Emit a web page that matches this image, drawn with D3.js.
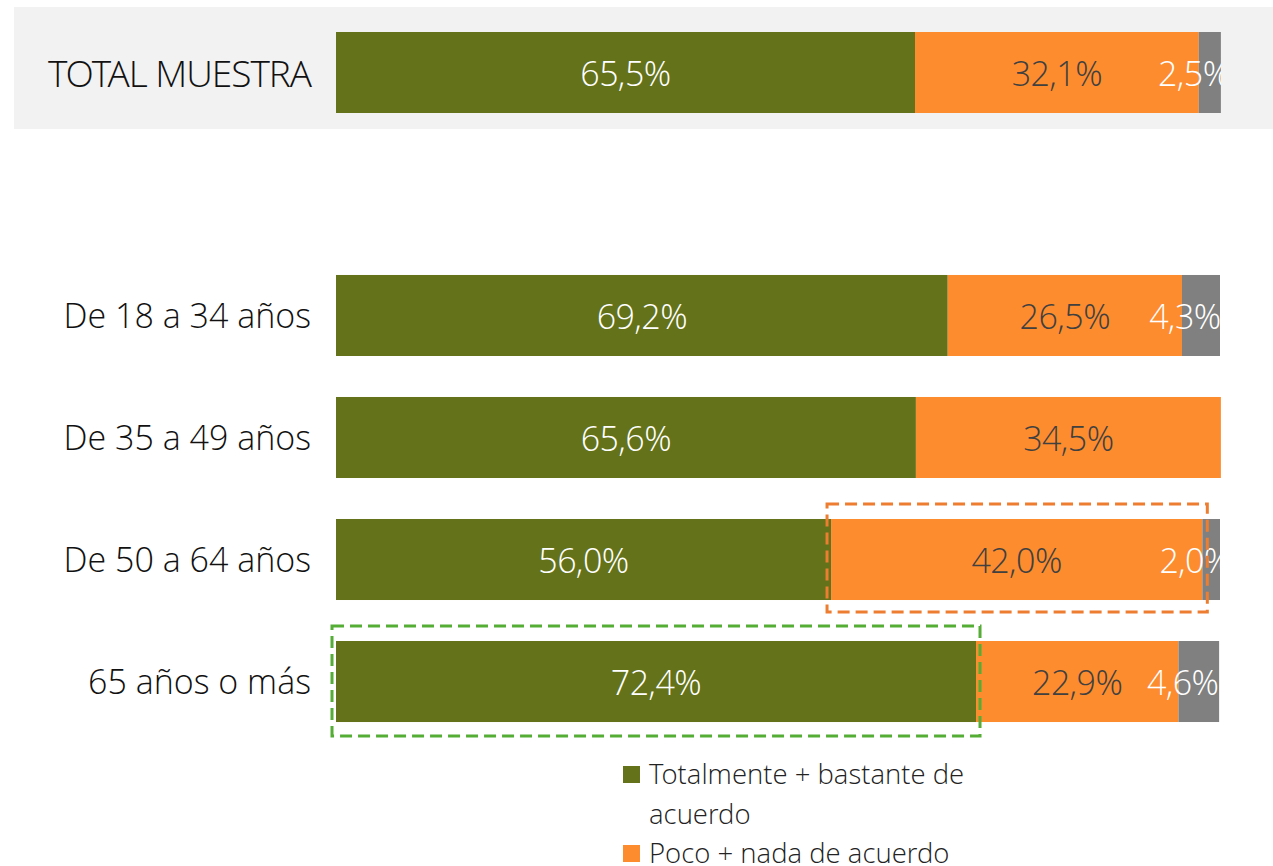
<!DOCTYPE html>
<html>
<head>
<meta charset="utf-8">
<script src="https://cdn.jsdelivr.net/npm/d3@7"></script>
<style>
  body { margin: 0; background: #fff; }
  text { font-family: "Open Sans Light", "Open Sans", "Noto Sans", sans-serif; font-weight: 300; }
</style>
</head>
<body>
<div id="vis"></div>
<script>
var width = 1273, height = 866;

// data
var totalLabel = "TOTAL MUESTRA";
var totalValues = [65.5, 32.1, 2.5];
var groups = ["De 18 a 34 años", "De 35 a 49 años", "De 50 a 64 años", "65 años o más"];
var acuerdo = [69.2, 65.6, 56.0, 72.4];
var desacuerdo = [26.5, 34.5, 42.0, 22.9];
var nsnc = [4.3, 0, 2.0, 4.6];
var seriesNames = ["Totalmente + bastante de acuerdo", "Poco + nada de acuerdo", "NS/NC"];
var seriesColors = ["#64721a", "#fd8c2f", "#808080"];
var labelColors = ["#ffffff", "#404040", "#ffffff"];

var svg = d3.select("#vis").append("svg")
    .attr("width", width)
    .attr("height", height);

var x = d3.scaleLinear().domain([0, 100]).range([336, 1220]);

var yTotal = d3.scaleBand().domain([totalLabel]).range([32, 113]);
var y = d3.scaleBand().domain(groups).range([254, 743]).paddingInner(0.336).paddingOuter(0.172);

svg.append("defs").append("clipPath").attr("id", "plotclip")
  .append("rect").attr("x", 0).attr("y", 0).attr("width", x(100) + 1).attr("height", height);

// total panel
svg.append("rect")
    .attr("x", 14).attr("y", 7)
    .attr("width", width - 14).attr("height", 122)
    .attr("fill", "#f2f2f2");

function stackRow(vals) {
  var acc = 0;
  return vals.map(function(v, i) {
    var d = {i: i, v: v, x0: acc, x1: acc + v};
    acc += v;
    return d;
  });
}

var rows = [{name: totalLabel, band: yTotal, segs: stackRow(totalValues), total: true}];
groups.forEach(function(g, k) {
  rows.push({name: g, band: y, segs: stackRow([acuerdo[k], desacuerdo[k], nsnc[k]]), total: false});
});

var fmt = function(v) { return d3.format(".1f")(v).replace(".", ",") + "%"; };

var rowG = svg.selectAll("g.row")
    .data(rows)
  .enter().append("g")
    .attr("class", "row")
    .attr("clip-path", "url(#plotclip)");

rowG.selectAll("rect")
    .data(function(r) { return r.segs.filter(function(s) { return s.v > 0; }).map(function(s) { s.row = r; return s; }); })
  .enter().append("rect")
    .attr("x", function(d) { return x(d.x0); })
    .attr("y", function(d) { return d.row.band(d.row.name); })
    .attr("width", function(d) { return Math.min(x(d.x1), x(100) + 1) - x(d.x0); })
    .attr("height", function(d) { return d.row.band.bandwidth(); })
    .attr("fill", function(d) { return seriesColors[d.i]; });

rowG.selectAll("text")
    .data(function(r) { return r.segs.filter(function(s) { return s.v > 0; }); })
  .enter().append("text")
    .attr("x", function(d) {
      var c = (x(d.x0) + x(d.x1)) / 2;
      return d.i == 2 ? c - 16 : c;
    })
    .attr("y", function(d) { return d.row.band(d.row.name) + d.row.band.bandwidth() / 2; })
    .attr("dy", "0.4em")
    .attr("text-anchor", "middle")
    .style("font-size", "34px")
    .style("letter-spacing", "-0.5px")
    .style("fill", function(d) { return labelColors[d.i]; })
    .text(function(d) { return fmt(d.v); });

// category labels
svg.selectAll("text.cat")
    .data(rows)
  .enter().append("text")
    .attr("class", "cat")
    .attr("x", 311)
    .attr("y", function(r) { return r.band(r.name) + r.band.bandwidth() / 2; })
    .attr("dy", "0.38em")
    .attr("text-anchor", "end")
    .style("font-size", function(r) { return r.total ? "37px" : "34px"; })
    .style("letter-spacing", function(r) { return r.total ? "-1px" : "0px"; })
    .style("fill", "#111")
    .text(function(r) { return r.name; });

// highlight boxes
var gOr = groups[2], gGr = groups[3];
svg.append("rect")
    .attr("x", x(acuerdo[2]) - 4)
    .attr("y", y(gOr) - 15)
    .attr("width", x(acuerdo[2] + desacuerdo[2]) - x(acuerdo[2]) + 9)
    .attr("height", y.bandwidth() + 27)
    .attr("fill", "none")
    .attr("stroke", "#ed7d31")
    .attr("stroke-width", 3)
    .attr("stroke-dasharray", "12,6");

svg.append("rect")
    .attr("x", x(0) - 4)
    .attr("y", y(gGr) - 15)
    .attr("width", x(acuerdo[3]) - x(0) + 8)
    .attr("height", y.bandwidth() + 29)
    .attr("fill", "none")
    .attr("stroke", "#55ad36")
    .attr("stroke-width", 3)
    .attr("stroke-dasharray", "12,6");

// legend
var legend = svg.append("g").attr("transform", "translate(623,766)");
var legendLines = [["Totalmente + bastante de", "acuerdo"], ["Poco + nada de acuerdo"]];
var ly = [0, 79];
legendLines.forEach(function(lines, i) {
  legend.append("rect")
      .attr("x", 0).attr("y", ly[i])
      .attr("width", 17).attr("height", 17)
      .attr("fill", seriesColors[i]);
  legend.append("text")
      .attr("x", 26).attr("y", ly[i] + 18)
      .style("font-size", "27.5px")
      .style("fill", "#222")
    .selectAll("tspan")
      .data(lines)
    .enter().append("tspan")
      .attr("x", 26)
      .attr("dy", function(d, j) { return j ? 40 : 0; })
      .text(function(d) { return d; });
});
</script>
</body>
</html>
